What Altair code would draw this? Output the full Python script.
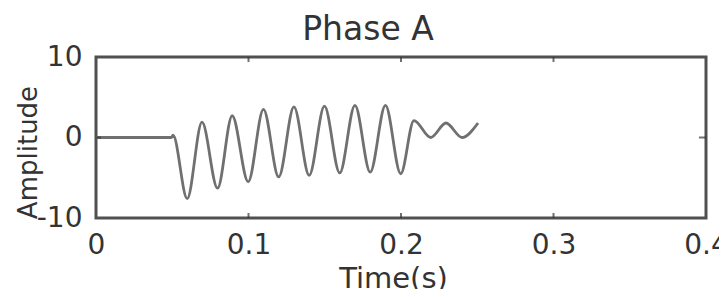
import altair as alt
import pandas as pd

# waveform samples (time in s, amplitude): extrema of the oscillation
t_vals = [0.0, 0.0495, 0.0505, 0.0598, 0.0695, 0.0797, 0.0893, 0.0998, 0.1098, 0.1198,
          0.1298, 0.1398, 0.1498, 0.1598, 0.1698, 0.1798, 0.1898, 0.1998, 0.2085,
          0.2195, 0.2295, 0.2400, 0.2505]
a_vals = [0.0, 0.0, 0.3, -7.6, 1.9, -6.3, 2.7, -5.5, 3.5, -4.9,
          3.8, -4.7, 3.9, -4.4, 4.0, -4.3, 4.0, -4.5, 2.1,
          0.0, 1.8, 0.0, 1.8]

x_ticks = [0, 0.1, 0.2, 0.3, 0.4]
y_ticks = [-10, 0, 10]
x_inner_ticks = [0.1, 0.2, 0.3]
y_inner_ticks = [0]
title_text = "Phase A"

W, H = 610, 161
FONT = "DejaVu Sans"
TXT = "#333333"

wave = pd.DataFrame({"t": t_vals, "a": a_vals})
xt = pd.DataFrame({"t": x_inner_ticks})
yt = pd.DataFrame({"a": y_inner_ticks})

xscale = alt.Scale(domain=[0, 0.4], nice=False)
yscale = alt.Scale(domain=[-10, 10], nice=False)

line = alt.Chart(wave).mark_line(color="#707070", strokeWidth=2.8, interpolate="monotone").encode(
    x=alt.X("t:Q", scale=xscale,
            axis=alt.Axis(values=x_ticks, format="~g", title="Time(s)", labelFontSize=28,
                          labelFont=FONT, labelColor=TXT, labelPadding=13, labelFlush=False,
                          ticks=False, domain=False, grid=False,
                          titleFont=FONT, titleFontSize=29, titleFontWeight="normal",
                          titleColor=TXT, titleX=W / 2 - 8, titleY=69,
                          titleBaseline="alphabetic")),
    y=alt.Y("a:Q", scale=yscale,
            axis=alt.Axis(values=y_ticks, labelExpr="'' + datum.value", title="Amplitude",
                          labelFontSize=28, labelFont=FONT, labelColor=TXT, labelPadding=14,
                          ticks=False, domain=False, grid=False,
                          titleFont=FONT, titleFontSize=26, titleFontWeight="normal",
                          titleColor=TXT, titleX=-68, titleY=95, titleAngle=270,
                          titleAlign="center", titleBaseline="middle")),
)

tick_color = "#333333"
bottom_t = alt.Chart(xt).mark_tick(orient="vertical", size=5, yOffset=-2.5, color=tick_color,
                                   thickness=2).encode(
    x=alt.X("t:Q", scale=xscale), y=alt.datum(-10, scale=yscale))
top_t = alt.Chart(xt).mark_tick(orient="vertical", size=5, yOffset=2.5, color=tick_color,
                                thickness=2).encode(
    x=alt.X("t:Q", scale=xscale), y=alt.datum(10, scale=yscale))
left_t = alt.Chart(yt).mark_tick(orient="horizontal", size=5, xOffset=2.5, color=tick_color,
                                 thickness=2).encode(
    y=alt.Y("a:Q", scale=yscale), x=alt.datum(0, scale=xscale))
right_t = alt.Chart(yt).mark_tick(orient="horizontal", size=7, xOffset=-3.5, color=tick_color,
                                  thickness=2).encode(
    y=alt.Y("a:Q", scale=yscale), x=alt.datum(0.4, scale=xscale))

title = alt.Chart(pd.DataFrame({"label": [title_text]})).mark_text(
    font=FONT, fontSize=33, color=TXT, align="center", baseline="alphabetic", dx=-33, dy=-17
).encode(x=alt.datum(0.2, scale=xscale), y=alt.datum(10, scale=yscale), text="label:N")

chart = alt.layer(line, bottom_t, top_t, left_t, right_t, title).properties(
    width=W, height=H,
    autosize=alt.AutoSizeParams(type="none"),
    padding={"left": 88, "top": 49, "right": 13, "bottom": 71},
).configure(background="white").configure_view(stroke="#505050", strokeWidth=3)

chart.save("out.html", embed_options={"renderer": "svg", "actions": False})
